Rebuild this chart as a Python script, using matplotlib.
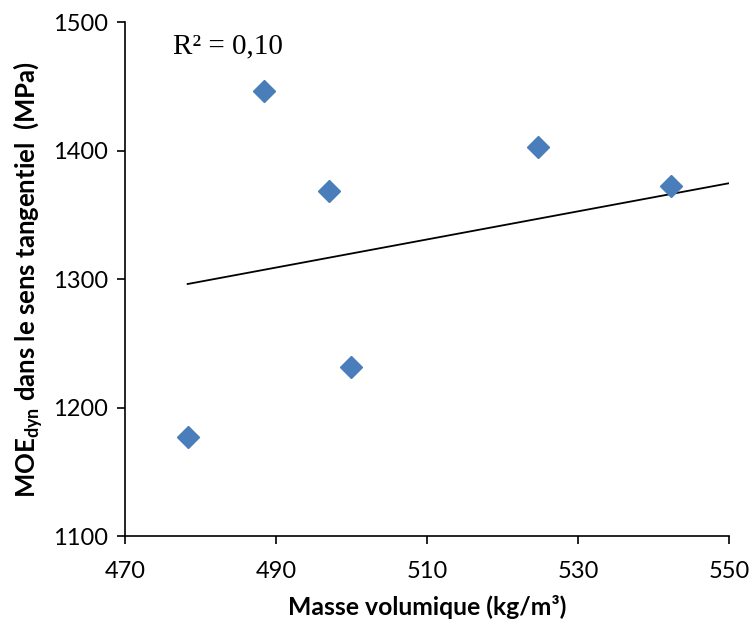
import matplotlib.pyplot as plt

plt.rcParams['font.family'] = ['Lato', 'DejaVu Sans']
plt.rcParams['mathtext.fontset'] = 'custom'
plt.rcParams['mathtext.rm'] = 'Lato:bold'

# Mesures : masse volumique et module dynamique
masse_vol = [478.3, 488.4, 497.0, 500.0, 524.7, 542.3]
moe_dyn = [1177, 1447, 1369, 1232, 1403, 1373]

# Courbe de tendance linéaire
tendance_x = [478.3, 550]
tendance_y = [1296.3, 1374.8]
r2_texte = "R² = 0,10"

x_ticks = [470, 490, 510, 530, 550]
y_ticks = [1100, 1200, 1300, 1400, 1500]

fig = plt.figure(figsize=(7.56, 6.23), dpi=100)
ax = fig.add_axes([0.1653, 0.1396, 0.799, 0.8243])

ax.plot(tendance_x, tendance_y, color='black', linewidth=1.3, zorder=2)
ax.plot(masse_vol, moe_dyn, linestyle='none', marker='D', markersize=11.5,
        color='#4A7EBB', markeredgecolor='#4A7EBB', zorder=3)

ax.set_xlim(470, 550)
ax.set_ylim(1100, 1500)
ax.set_xticks(x_ticks)
ax.set_yticks(y_ticks)

for side in ['top', 'right']:
    ax.spines[side].set_visible(False)
for side in ['left', 'bottom']:
    ax.spines[side].set_linewidth(1.2)
ax.tick_params(direction='out', length=6, width=1.2, labelsize=17)
ax.tick_params(axis='x', pad=12)
ax.tick_params(axis='y', pad=6)

ax.text(476.4, 1476.2, r2_texte, family='Liberation Serif', fontsize=21,
        va='baseline', ha='left')

ax.set_xlabel("Masse volumique (kg/m³)", fontsize=17.8, fontweight='bold', labelpad=9)
ax.set_ylabel(r"MOE$_{\mathrm{dyn}}$ dans le sens tangentiel  (MPa)", fontsize=18.5,
              fontweight='bold', labelpad=6)

fig.savefig('out.png', dpi=100)
